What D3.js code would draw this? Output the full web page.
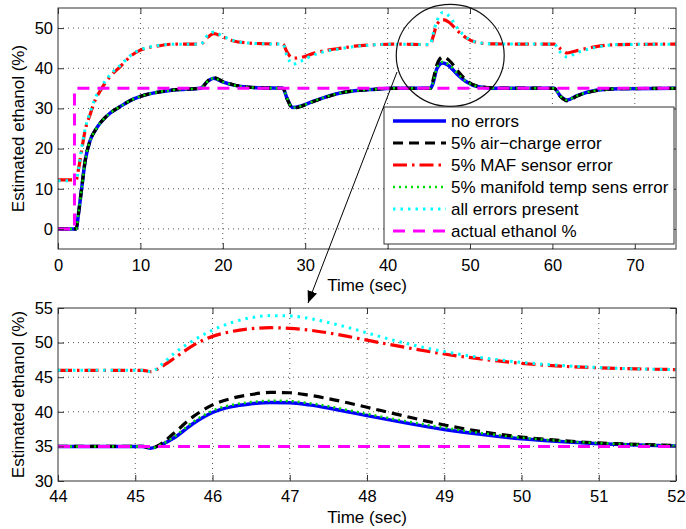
<!DOCTYPE html>
<html>
<head>
<meta charset="utf-8">
<script src="https://cdn.jsdelivr.net/npm/d3@7"></script>
<style>
  body { margin: 0; background: #fff; }
  text { font-family: "Liberation Sans", Arial, sans-serif; fill: #000; }
</style>
</head>
<body>
<div id="chart"></div>
<script>
// full run, 0-75 s
const topTime = [0, 2.2, 2.5, 2.9, 3.3, 3.9, 4.5, 5.1, 6.3, 7.5, 9, 10, 12, 14, 17.3, 18.2, 18.9, 20, 21.3, 23, 25, 27.3, 27.8, 28.5, 29.5, 31, 33, 34.4, 36, 38, 40.7, 45.2, 45.5, 46, 46.7, 47.5, 48.5, 49.5, 51, 53, 60.2, 61, 61.8, 63, 65.3, 68, 75];
const topNoErr = [0, 0, 4, 10.6, 17, 22, 24.5, 26.3, 28.8, 30.4, 32.2, 33, 34, 34.6, 35, 36.8, 37.5, 36.6, 35.8, 35.3, 35.1, 35, 32.5, 30.2, 30.6, 31.8, 33.2, 33.9, 34.4, 34.7, 35, 35, 36.2, 40, 41.3, 40.5, 38.4, 36.7, 35.4, 35.05, 35, 33, 32.1, 33.2, 34.5, 34.9, 35];
const topAirCharge = [0, 0, 4, 10.6, 17, 22, 24.5, 26.3, 28.8, 30.4, 32.2, 33, 34, 34.6, 35, 36.9, 37.7, 36.7, 35.9, 35.3, 35.1, 35, 32.4, 30, 30.5, 31.7, 33.1, 33.9, 34.4, 34.7, 35, 35, 36.9, 41, 42.8, 41.9, 39.35, 37.1, 35.5, 35.1, 35, 32.9, 31.9, 33.1, 34.4, 34.9, 35];
const topMaf = [12.2, 12.2, 15, 20, 24.6, 28.5, 32, 34.3, 37.9, 40.3, 43.3, 44.5, 45.5, 46, 46, 47.8, 48.6, 47.8, 46.8, 46.3, 46.1, 46, 44, 42.5, 42.7, 43.7, 44.6, 45, 45.5, 45.8, 46, 45.9, 47.7, 50.9, 52.1, 51.4, 49.3, 47.6, 46.35, 46.05, 46, 44.8, 43.8, 44.4, 45.4, 45.9, 46];
const topManifold = [0, 0, 4, 10.6, 17, 22, 24.5, 26.3, 28.8, 30.4, 32.2, 33, 34, 34.6, 35, 36.8, 37.5, 36.6, 35.8, 35.3, 35.1, 35, 32.5, 30.2, 30.6, 31.8, 33.2, 33.9, 34.4, 34.7, 35, 35, 36.3, 40.2, 41.6, 40.8, 38.65, 36.8, 35.45, 35.05, 35, 33, 32.1, 33.2, 34.5, 34.9, 35];
const topAllErr = [12, 12, 15, 20.5, 25, 29, 32.5, 34.8, 38.3, 40.6, 43.5, 44.6, 45.6, 46, 46, 48.3, 49, 48, 46.9, 46.3, 46.1, 46, 43, 41, 41.8, 43.3, 44.4, 44.9, 45.4, 45.8, 46, 45.9, 48.4, 51.8, 53.9, 52.9, 49.9, 47.8, 46.4, 46.05, 46, 43.9, 42.8, 43.9, 45.2, 45.9, 46];
const topActualTime = [0, 2, 2, 75];
const topActual = [0, 0, 35, 35];

// close-up, 44-52 s
const zoomTime = [44, 45.1, 45.2, 45.35, 45.5, 45.75, 46, 46.25, 46.5, 46.75, 47, 47.25, 47.5, 47.75, 48, 48.5, 49, 49.5, 50, 50.5, 51, 51.5, 52];
const zoomNoErr = [35, 35, 34.75, 35.3, 36.2, 38.3, 39.9, 40.75, 41.15, 41.35, 41.3, 41.0, 40.55, 40.0, 39.45, 38.4, 37.45, 36.7, 36.1, 35.7, 35.4, 35.2, 35.05];
const zoomAirCharge = [35, 35, 34.75, 35.5, 36.9, 39.3, 41.0, 41.95, 42.5, 42.8, 42.75, 42.4, 41.9, 41.3, 40.65, 39.35, 38.1, 37.1, 36.35, 35.85, 35.5, 35.3, 35.15];
const zoomMaf = [46, 46, 45.8, 46.6, 47.7, 49.6, 50.9, 51.6, 52.0, 52.15, 52.05, 51.8, 51.4, 50.9, 50.35, 49.3, 48.35, 47.6, 47.0, 46.6, 46.35, 46.2, 46.1];
const zoomManifold = [35, 35, 34.75, 35.35, 36.35, 38.55, 40.15, 41.0, 41.4, 41.6, 41.55, 41.25, 40.8, 40.25, 39.7, 38.65, 37.7, 36.9, 36.25, 35.8, 35.48, 35.25, 35.08];
const zoomAllErr = [46, 46, 45.8, 46.9, 48.4, 50.3, 51.8, 52.9, 53.6, 53.9, 53.85, 53.5, 52.9, 52.2, 51.4, 49.9, 48.7, 47.8, 47.15, 46.7, 46.4, 46.2, 46.1];
const zoomActualTime = [44, 52];
const zoomActual = [35, 35];

const topXTicks = [0, 10, 20, 30, 40, 50, 60, 70];
const topYTicks = [0, 10, 20, 30, 40, 50];
const zoomXTicks = [44, 45, 46, 47, 48, 49, 50, 51, 52];
const zoomYTicks = [30, 35, 40, 45, 50, 55];

const legendLabels = ['no errors', '5% air\u2212charge error', '5% MAF sensor error', '5% manifold temp sens error', 'all errors present', 'actual ethanol %'];

const styles = [
  { color: '#0000ff', width: 3.5, dash: null },
  { color: '#000000', width: 3.2, dash: '10,6' },
  { color: '#ff0000', width: 3.2, dash: '14,5,2.5,5' },
  { color: '#00dd00', width: 2.5, dash: '2,4' },
  { color: '#00ffff', width: 3, dash: '2.5,5' },
  { color: '#ff00ff', width: 3, dash: '12,8' }
];

const width = 686;
const height = 529;
const svg = d3.select('#chart').append('svg')
  .attr('width', width)
  .attr('height', height);

function drawPanel(box, xDomain, yDomain, xTicks, yTicks, series, id, xPad) {
  const x = d3.scaleLinear().domain(xDomain).range([box.left, box.right]);
  const y = d3.scaleLinear().domain(yDomain).range([box.bottom, box.top]);
  const g = svg.append('g');

  g.append('clipPath').attr('id', id)
    .append('rect')
    .attr('x', box.left).attr('y', box.top)
    .attr('width', box.right - box.left).attr('height', box.bottom - box.top);

  // grid
  g.append('g').selectAll('line')
    .data(xTicks.filter(t => t > xDomain[0] && t < xDomain[1]))
    .enter().append('line')
    .attr('x1', d => x(d)).attr('x2', d => x(d))
    .attr('y1', box.top).attr('y2', box.bottom)
    .attr('stroke', '#555').attr('stroke-width', 1).attr('stroke-dasharray', '1,4');
  g.append('g').selectAll('line')
    .data(yTicks.filter(t => t > yDomain[0] && t < yDomain[1]))
    .enter().append('line')
    .attr('y1', d => y(d)).attr('y2', d => y(d))
    .attr('x1', box.left).attr('x2', box.right)
    .attr('stroke', '#555').attr('stroke-width', 1).attr('stroke-dasharray', '1,4');

  // data
  const plot = g.append('g').attr('clip-path', `url(#${id})`);
  series.forEach((s, i) => {
    const st = styles[i];
    const pts = s.t.map((t, k) => [t, s.v[k]]);
    const line = d3.line()
      .x(d => x(d[0]))
      .y(d => y(d[1]))
      .curve(s.linear ? d3.curveLinear : d3.curveMonotoneX);
    plot.append('path')
      .attr('d', line(pts))
      .attr('fill', 'none')
      .attr('stroke', st.color)
      .attr('stroke-width', st.width)
      .attr('stroke-dasharray', st.dash);
  });

  // box and inward ticks
  const bottomAxis = g.append('g')
    .attr('transform', `translate(0,${box.bottom})`)
    .call(d3.axisBottom(x).tickValues(xTicks).tickSize(-6).tickPadding(xPad));
  const topAxis = g.append('g')
    .attr('transform', `translate(0,${box.top})`)
    .call(d3.axisTop(x).tickValues(xTicks).tickSize(-6).tickFormat(''));
  const leftAxis = g.append('g')
    .attr('transform', `translate(${box.left},0)`)
    .call(d3.axisLeft(y).tickValues(yTicks).tickSize(-6).tickPadding(5));
  const rightAxis = g.append('g')
    .attr('transform', `translate(${box.right},0)`)
    .call(d3.axisRight(y).tickValues(yTicks).tickSize(-6).tickFormat(''));
  [bottomAxis, topAxis, leftAxis, rightAxis].forEach(a => {
    a.select('.domain').remove();
    a.selectAll('line').attr('stroke', '#333');
    a.selectAll('text').attr('font-size', 16.5).attr('fill', '#000')
      .attr('font-family', '"Liberation Sans", Arial, sans-serif');
  });
  g.append('rect')
    .attr('x', box.left).attr('y', box.top)
    .attr('width', box.right - box.left).attr('height', box.bottom - box.top)
    .attr('fill', 'none').attr('stroke', '#333').attr('stroke-width', 1);

  g.append('text')
    .attr('x', (box.left + box.right) / 2)
    .attr('y', box.bottom + 42)
    .attr('text-anchor', 'middle')
    .attr('font-size', 17)
    .text('Time (sec)');
  g.append('text')
    .attr('transform', `translate(24,${(box.top + box.bottom) / 2}) rotate(-90)`)
    .attr('text-anchor', 'middle')
    .attr('font-size', 17)
    .text('Estimated ethanol (%)');

  return { x, y, g };
}

const topBox = { left: 58, right: 676, top: 8, bottom: 249 };
const zoomBox = { left: 58, right: 676, top: 308, bottom: 481 };

const topPanel = drawPanel(topBox, [0, 75], [-5, 55], topXTicks, topYTicks, [
  { t: topTime, v: topNoErr },
  { t: topTime, v: topAirCharge },
  { t: topTime, v: topMaf },
  { t: topTime, v: topManifold },
  { t: topTime, v: topAllErr },
  { t: topActualTime, v: topActual, linear: true }
], 'clipTop', 10);

drawPanel(zoomBox, [44, 52], [30, 55], zoomXTicks, zoomYTicks, [
  { t: zoomTime, v: zoomNoErr },
  { t: zoomTime, v: zoomAirCharge },
  { t: zoomTime, v: zoomMaf },
  { t: zoomTime, v: zoomManifold },
  { t: zoomTime, v: zoomAllErr },
  { t: zoomActualTime, v: zoomActual, linear: true }
], 'clipZoom', 9);

// circle around the 45-52 s region
const tx = topPanel.x, ty = topPanel.y;
const cx = tx(47.6), cy = ty(43.2);
svg.append('ellipse')
  .attr('cx', cx).attr('cy', cy)
  .attr('rx', tx(47.6 + 6.55) - cx)
  .attr('ry', cy - ty(43.2 + 12.7))
  .attr('fill', 'none')
  .attr('stroke', '#111')
  .attr('stroke-width', 1.2);

// legend
const legend = svg.append('g');
legend.append('rect')
  .attr('x', 384).attr('y', 107)
  .attr('width', 290).attr('height', 137)
  .attr('fill', '#fff').attr('stroke', '#333').attr('stroke-width', 1);
const rows = legend.selectAll('g.row')
  .data(legendLabels)
  .enter().append('g')
  .attr('class', 'row')
  .attr('transform', (d, i) => `translate(0,${121 + i * 22})`);
rows.append('line')
  .attr('x1', 393).attr('x2', 446)
  .attr('y1', 0).attr('y2', 0)
  .attr('stroke', (d, i) => styles[i].color)
  .attr('stroke-width', (d, i) => styles[i].width)
  .attr('stroke-dasharray', (d, i) => styles[i].dash);
rows.append('text')
  .attr('x', 451)
  .attr('y', 6)
  .attr('font-size', 17)
  .text(d => d);

// arrow from the circle down to the close-up
svg.append('defs').append('marker')
  .attr('id', 'arrow')
  .attr('viewBox', '0 0 12 10')
  .attr('refX', 12).attr('refY', 5)
  .attr('markerWidth', 12).attr('markerHeight', 10)
  .attr('markerUnits', 'userSpaceOnUse')
  .attr('orient', 'auto')
  .append('path')
  .attr('d', 'M0,0 L12,5 L0,10 Z')
  .attr('fill', '#000');
svg.append('line')
  .attr('x1', 397).attr('y1', 72)
  .attr('x2', 308).attr('y2', 303)
  .attr('stroke', '#000')
  .attr('stroke-width', 1)
  .attr('marker-end', 'url(#arrow)');
</script>
</body>
</html>
